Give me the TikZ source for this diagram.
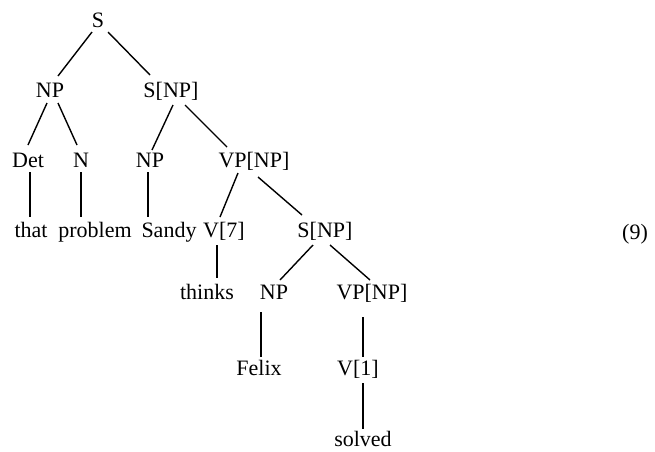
\documentclass[tikz,border=0pt]{standalone}
\usepackage{fontspec}
\setmainfont{Liberation Serif}
\begin{document}
\begin{tikzpicture}[x=1pt,y=-1pt,
  lbl/.style={anchor=base,inner sep=0pt,font=\fontsize{22}{26}\selectfont},
  branch/.style={line width=1.4pt}]
\useasboundingbox (0,0) rectangle (655,451);
% tree labels, placed by baseline
\node[lbl] (s)      at (98,27)   {S};
\node[lbl] (np1)    at (50,97)   {NP};
\node[lbl] (snp1)   at (171,97)  {S[NP]};
\node[lbl] (det)    at (28,167)  {Det};
\node[lbl] (n)      at (81,167)  {N};
\node[lbl] (np2)    at (150,167) {NP};
\node[lbl] (vpnp1)  at (254,167) {VP[NP]};
\node[lbl] (that)   at (31,237)  {that};
\node[lbl] (prob)   at (95,237)  {problem};
\node[lbl] (sandy)  at (169,237) {Sandy};
\node[lbl] (v7)     at (224,237) {V[7]};
\node[lbl] (snp2)   at (325,237) {S[NP]};
\node[lbl] (thinks) at (207,299) {thinks};
\node[lbl] (np3)    at (274,299) {NP};
\node[lbl] (vpnp2)  at (372,299) {VP[NP]};
\node[lbl] (felix)  at (259,375) {Felix};
\node[lbl] (v1)     at (358,375) {V[1]};
\node[lbl] (solved) at (363,446) {solved};
\node[lbl] (num)    at (635,239) {(9)};
% branches
\draw[branch] ([shift={(-6,5)}]s.base)     -- ([shift={(8,-21)}]np1.base);
\draw[branch] ([shift={(10,5)}]s.base)     -- ([shift={(-21,-22)}]snp1.base);
\draw[branch] ([shift={(-3,6)}]np1.base)   -- ([shift={(0,-22)}]det.base);
\draw[branch] ([shift={(8,6)}]np1.base)    -- ([shift={(-4,-22)}]n.base);
\draw[branch] ([shift={(2,8)}]snp1.base)   -- ([shift={(2,-17)}]np2.base);
\draw[branch] ([shift={(14,8)}]snp1.base)  -- ([shift={(-27,-20)}]vpnp1.base);
\draw[branch] ([shift={(2,5)}]det.base)    -- ([shift={(-1,-20)}]that.base);
\draw[branch] ([shift={(0,5)}]n.base)      -- ([shift={(-14,-20)}]prob.base);
\draw[branch] ([shift={(-2,5)}]np2.base)   -- ([shift={(-21,-20)}]sandy.base);
\draw[branch] ([shift={(-16,6)}]vpnp1.base) -- ([shift={(-4,-20)}]v7.base);
\draw[branch] ([shift={(4,10)}]vpnp1.base)  -- ([shift={(-23,-22)}]snp2.base);
\draw[branch] ([shift={(-7,8)}]v7.base)    -- ([shift={(10,-21)}]thinks.base);
\draw[branch] ([shift={(-12,8)}]snp2.base) -- ([shift={(6,-19)}]np3.base);
\draw[branch] ([shift={(5,8)}]snp2.base)   -- ([shift={(-2,-19)}]vpnp2.base);
\draw[branch] ([shift={(-13,13)}]np3.base) -- ([shift={(2,-18)}]felix.base);
\draw[branch] ([shift={(-9,18)}]vpnp2.base) -- ([shift={(5,-18)}]v1.base);
\draw[branch] ([shift={(5,8)}]v1.base)     -- ([shift={(0,-17)}]solved.base);
\end{tikzpicture}
\end{document}
